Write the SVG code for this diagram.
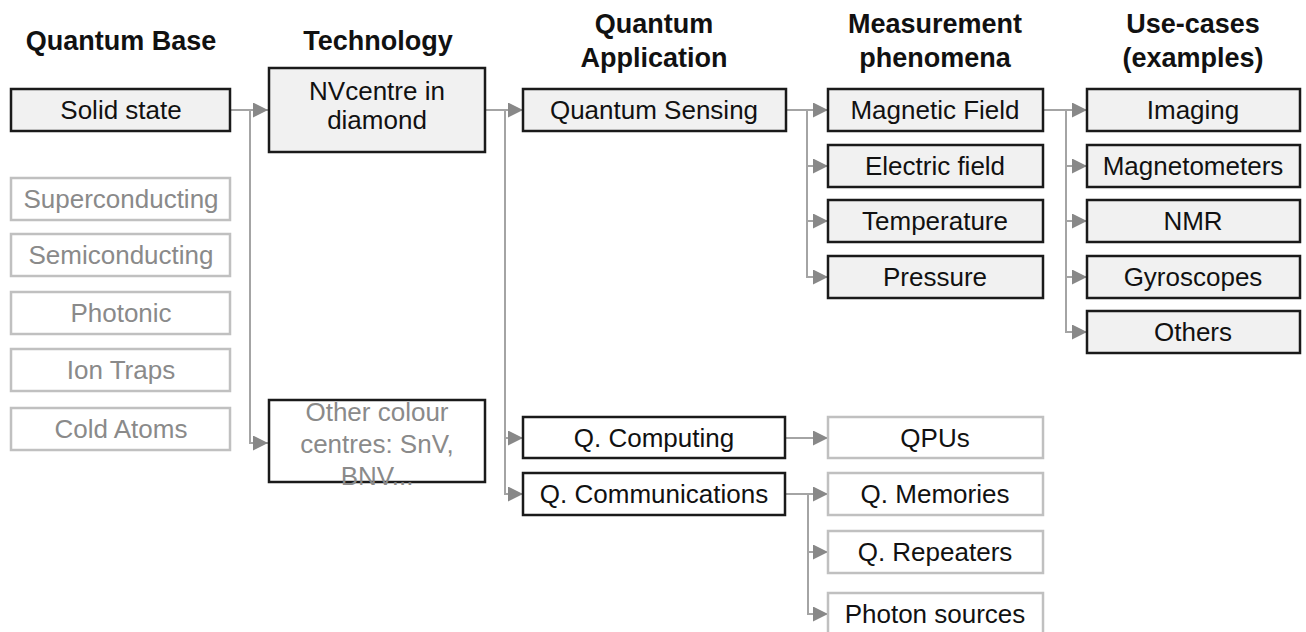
<svg xmlns="http://www.w3.org/2000/svg" width="1306" height="632" viewBox="0 0 1306 632">
<defs>
<style>
.hdr{font-family:"Liberation Sans",Arial,sans-serif;font-weight:bold;font-size:27px;fill:#111;text-anchor:middle}
.t{font-family:"Liberation Sans",Arial,sans-serif;font-size:26px;fill:#111;text-anchor:middle}
.tg{font-family:"Liberation Sans",Arial,sans-serif;font-size:26px;fill:#8a8a8a;text-anchor:middle}
.bx{fill:#f1f1f1;stroke:#1a1a1a;stroke-width:2.5}
.bw{fill:#ffffff;stroke:#1a1a1a;stroke-width:2.5}
.bg{fill:#ffffff;stroke:#c0c0c0;stroke-width:2.5}
.c{fill:none;stroke:#a4a4a4;stroke-width:2;marker-end:url(#ah)}
</style>
<marker id="ah" markerUnits="userSpaceOnUse" markerWidth="15" markerHeight="15" refX="15" refY="7.5" orient="auto">
<path d="M0,0 L15,7.5 L0,15 z" fill="#888888"/>
</marker>
</defs>
<rect width="1306" height="632" fill="#ffffff"/>

<g id="headers">
<text class="hdr" x="121" y="50">Quantum Base</text>
<text class="hdr" x="378" y="50">Technology</text>
<text class="hdr" x="654" y="33">Quantum</text>
<text class="hdr" x="654" y="67">Application</text>
<text class="hdr" x="935" y="33">Measurement</text>
<text class="hdr" x="935" y="67">phenomena</text>
<text class="hdr" x="1193" y="33">Use-cases</text>
<text class="hdr" x="1193" y="67">(examples)</text>
</g>

<g id="connectors">
<path class="c" d="M230,110 H268"/>
<path class="c" d="M250,110 V443 H268"/>
<path class="c" d="M485,110 H523"/>
<path class="c" d="M505,110 V438 H523"/>
<path class="c" d="M505,438 V494 H523"/>
<path class="c" d="M786,110 H828"/>
<path class="c" d="M807,110 V166 H828"/>
<path class="c" d="M807,166 V221 H828"/>
<path class="c" d="M807,221 V277 H828"/>
<path class="c" d="M1043,110 H1087"/>
<path class="c" d="M1066,110 V166 H1087"/>
<path class="c" d="M1066,166 V221 H1087"/>
<path class="c" d="M1066,221 V277 H1087"/>
<path class="c" d="M1066,277 V332 H1087"/>
<path class="c" d="M785,438 H828"/>
<path class="c" d="M785,494 H828"/>
<path class="c" d="M808,494 V552 H828"/>
<path class="c" d="M808,552 V614 H828"/>
</g>

<g id="solid-state"><rect class="bx" x="11" y="89" width="219" height="42"/><text class="t" x="121" y="119">Solid state</text></g>
<g id="superconducting"><rect class="bg" x="11" y="178" width="219" height="42"/><text class="tg" x="121" y="208">Superconducting</text></g>
<g id="semiconducting"><rect class="bg" x="11" y="234" width="219" height="42"/><text class="tg" x="121" y="264">Semiconducting</text></g>
<g id="photonic"><rect class="bg" x="11" y="292" width="219" height="42"/><text class="tg" x="121" y="322">Photonic</text></g>
<g id="ion-traps"><rect class="bg" x="11" y="349" width="219" height="42"/><text class="tg" x="121" y="379">Ion Traps</text></g>
<g id="cold-atoms"><rect class="bg" x="11" y="408" width="219" height="42"/><text class="tg" x="121" y="438">Cold Atoms</text></g>

<g id="nv-centre"><rect class="bx" x="269" y="68" width="216" height="84"/><text class="t" x="377" y="100">NVcentre in</text><text class="t" x="377" y="129">diamond</text></g>
<g id="other-colour-centres"><rect class="bw" x="269" y="400" width="216" height="82"/><text class="tg" x="377" y="421">Other colour</text><text class="tg" x="377" y="453">centres: SnV,</text><text class="tg" x="377" y="485">BNV...</text></g>

<g id="quantum-sensing"><rect class="bx" x="523" y="89" width="263" height="42"/><text class="t" x="654" y="119">Quantum Sensing</text></g>
<g id="q-computing"><rect class="bw" x="523" y="417" width="262" height="41"/><text class="t" x="654" y="447">Q. Computing</text></g>
<g id="q-communications"><rect class="bw" x="523" y="473" width="262" height="42"/><text class="t" x="654" y="503">Q. Communications</text></g>

<g id="magnetic-field"><rect class="bx" x="828" y="89" width="215" height="42"/><text class="t" x="935" y="119">Magnetic Field</text></g>
<g id="electric-field"><rect class="bx" x="828" y="145" width="215" height="42"/><text class="t" x="935" y="175">Electric field</text></g>
<g id="temperature"><rect class="bx" x="828" y="200" width="215" height="42"/><text class="t" x="935" y="230">Temperature</text></g>
<g id="pressure"><rect class="bx" x="828" y="256" width="215" height="42"/><text class="t" x="935" y="286">Pressure</text></g>

<g id="qpus"><rect class="bg" x="828" y="417" width="215" height="41"/><text class="t" x="935" y="447">QPUs</text></g>
<g id="q-memories"><rect class="bg" x="828" y="473" width="215" height="42"/><text class="t" x="935" y="503">Q. Memories</text></g>
<g id="q-repeaters"><rect class="bg" x="828" y="531" width="215" height="42"/><text class="t" x="935" y="561">Q. Repeaters</text></g>
<g id="photon-sources"><rect class="bg" x="828" y="593" width="215" height="42"/><text class="t" x="935" y="623">Photon sources</text></g>

<g id="imaging"><rect class="bx" x="1087" y="89" width="213" height="42"/><text class="t" x="1193" y="119">Imaging</text></g>
<g id="magnetometers"><rect class="bx" x="1087" y="145" width="213" height="42"/><text class="t" x="1193" y="175">Magnetometers</text></g>
<g id="nmr"><rect class="bx" x="1087" y="200" width="213" height="42"/><text class="t" x="1193" y="230">NMR</text></g>
<g id="gyroscopes"><rect class="bx" x="1087" y="256" width="213" height="42"/><text class="t" x="1193" y="286">Gyroscopes</text></g>
<g id="others"><rect class="bx" x="1087" y="311" width="213" height="42"/><text class="t" x="1193" y="341">Others</text></g>
</svg>
